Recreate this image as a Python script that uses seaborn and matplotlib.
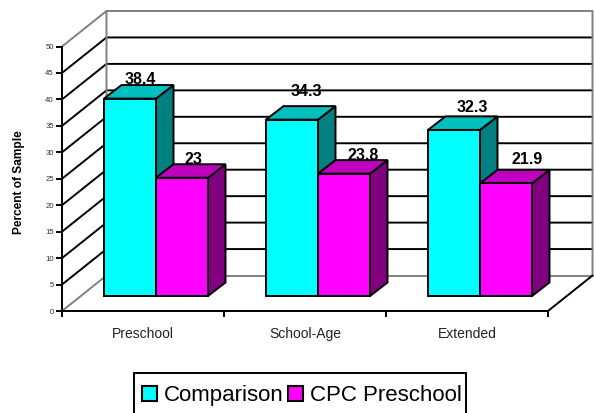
import matplotlib
matplotlib.use("Agg")
import matplotlib.pyplot as plt
from matplotlib.patches import Polygon, Patch, Rectangle
import pandas as pd
import seaborn as sns

categories = ["Preschool", "School-Age", "Extended"]
series_names = ["Comparison", "CPC Preschool"]
comparison = [38.4, 34.3, 32.3]
cpc_preschool = [23, 23.8, 21.9]
y_ticks = [0, 5, 10, 15, 20, 25, 30, 35, 40, 45, 50]

front_colors = ["#00FFFF", "#FF00FF"]
top_colors = ["#00BFBF", "#BF00BF"]
side_colors = ["#008080", "#800080"]

# layout, in pixels of the 594x413 picture
W, H = 594, 413
AX_L, AX_R, AX_B, AX_T = 62, 548, 311, 46.5
WALL_DX, WALL_DY = 44.5, 35.5      # depth of the floor
BAR_DX, BAR_DY = 17.5, 13.5        # depth of one bar
BAR_SHIFT_X, BAR_BASE = 13, 15     # where the bar row stands on the floor
BAR_SCALE = 0.972                  # foreshortening of the bars
LABEL_NUDGE = [[(2, -2), (3, -3)], [(6, 7), (10, -3)], [(10, 1), (12, 3)]]
LW = 1.4

sns.set_theme(style="white")
plt.rcParams["font.family"] = ["Liberation Sans", "DejaVu Sans"]

fig = plt.figure(figsize=(W / 100, H / 100), dpi=100, facecolor="white")
ax = fig.add_axes([AX_L / W, 1 - AX_B / H, (AX_R - AX_L) / W, (AX_B - AX_T) / H])

df = pd.DataFrame({
    "category": categories * 2,
    "series": [series_names[0]] * 3 + [series_names[1]] * 3,
    "value": comparison + cpc_preschool,
})
sns.barplot(data=df, x="category", y="value", hue="series", hue_order=series_names,
            palette=front_colors, width=0.642, gap=0, dodge=True, saturation=1,
            legend=False, edgecolor="black", linewidth=LW, ax=ax)

ax.set_xlim(-0.5, 2.5)
ax.set_ylim(0, 50)
ax.patch.set_alpha(0)
PX_X = (AX_R - AX_L) / 3
PX_Y = (AX_B - AX_T) / 50


def px_x(p):
    return p / PX_X


def px_y(p):
    return p / PX_Y


# walls and floor
wx0, wx1 = -0.5 + px_x(WALL_DX), 2.5 + px_x(WALL_DX)
wy = px_y(WALL_DY)
gray = "#808080"
for v in y_ticks[1:-1]:
    ax.plot([-0.5, wx0, wx1], [v, v + wy, v + wy], color="black", lw=LW, clip_on=False, zorder=1)
ax.plot([-0.5, wx0, wx1, wx1], [50, 50 + wy, 50 + wy, wy], color=gray, lw=LW, clip_on=False, zorder=1)
ax.plot([-0.5, wx0, wx0], [0, wy, 50 + wy], color=gray, lw=LW, clip_on=False, zorder=1)
ax.plot([wx0, wx1], [wy, wy], color=gray, lw=LW, clip_on=False, zorder=1)
ax.plot([2.5, wx1], [0, wy], color="black", lw=LW, clip_on=False, zorder=1)

# 3D bars built from the bars that seaborn drew
dx, dy = px_x(BAR_DX), px_y(BAR_DY)
base = px_y(BAR_BASE)
for s, (container, values) in enumerate(zip(ax.containers, [comparison, cpc_preschool])):
    z = 3 + s
    for c, (bar, v) in enumerate(zip(container.patches, values)):
        x0 = bar.get_x() + px_x(BAR_SHIFT_X)
        w = bar.get_width()
        top = base + v * BAR_SCALE
        bar.set_x(x0)
        bar.set_y(base)
        bar.set_height(v * BAR_SCALE)
        bar.set_zorder(z + 0.2)
        bar.set_clip_on(False)
        bar.set_joinstyle("miter")
        ax.add_patch(Polygon([(x0 + w, base), (x0 + w + dx, base + dy), (x0 + w + dx, top + dy), (x0 + w, top)],
                             facecolor=side_colors[s], edgecolor="black", lw=LW, zorder=z, clip_on=False))
        ax.add_patch(Polygon([(x0, top), (x0 + dx, top + dy), (x0 + w + dx, top + dy), (x0 + w, top)],
                             facecolor=top_colors[s], edgecolor="black", lw=LW, zorder=z, clip_on=False))
        nx, ny = LABEL_NUDGE[c][s]
        ax.annotate(f"{v:g}", xy=(x0 + w / 2 + dx / 2, top + dy), xytext=(nx * 0.72, ny * 0.72),
                    textcoords="offset points", ha="center", va="bottom", fontsize=11.5,
                    fontweight="bold", color="black", zorder=6, annotation_clip=False,
                    linespacing=1)

# axes
sns.despine(ax=ax)
for side in ("left", "bottom"):
    ax.spines[side].set_linewidth(LW)
    ax.spines[side].set_color("black")
    ax.spines[side].set_zorder(2)
ax.set_yticks(y_ticks)
ax.set_yticklabels([str(t) for t in y_ticks])
ax.tick_params(axis="y", left=True, length=4.3, width=LW, color="black", labelsize=5.6,
               labelcolor="#333333", pad=1.5)
ax.set_xticks([-0.5, 0.5, 1.5, 2.5])
ax.set_xticklabels([])
ax.set_xticks([0, 1, 2], labels=categories, minor=True)
ax.tick_params(axis="x", which="major", bottom=True, length=4.3, width=LW, color="black")
ax.tick_params(axis="x", which="minor", bottom=False, length=0, labelsize=10,
               labelcolor="#222222", pad=11.5)
ax.set_xlabel("")
ax.set_ylabel("")
fig.text(19 / W, 1 - 182 / H, "Percent of Sample", rotation=90, ha="center", va="center",
         fontsize=8.6, fontweight="bold", color="black")

# legend; the box runs off the bottom of the picture as in the reference
fig.add_artist(Rectangle((133.5 / W, -10 / H), (466 - 133.5) / W, (H - 372.5 + 10) / H,
                         transform=fig.transFigure, facecolor="white", edgecolor="black",
                         lw=LW, zorder=-1))
handles = [Patch(facecolor=front_colors[i], edgecolor="black", lw=1.5, label=series_names[i]) for i in range(2)]
leg = ax.legend(handles=handles, ncols=2, loc="center left", fontsize=16,
                bbox_to_anchor=(133.5 / W, 1 - 395.5 / H), bbox_transform=fig.transFigure,
                borderaxespad=0, borderpad=0.4, handlelength=0.65, handleheight=0.65,
                handletextpad=0.33, columnspacing=0.2, frameon=False)
leg.set_zorder(10)
for t in leg.get_texts():
    t.set_color("black")

fig.savefig("out.png", dpi=100)
